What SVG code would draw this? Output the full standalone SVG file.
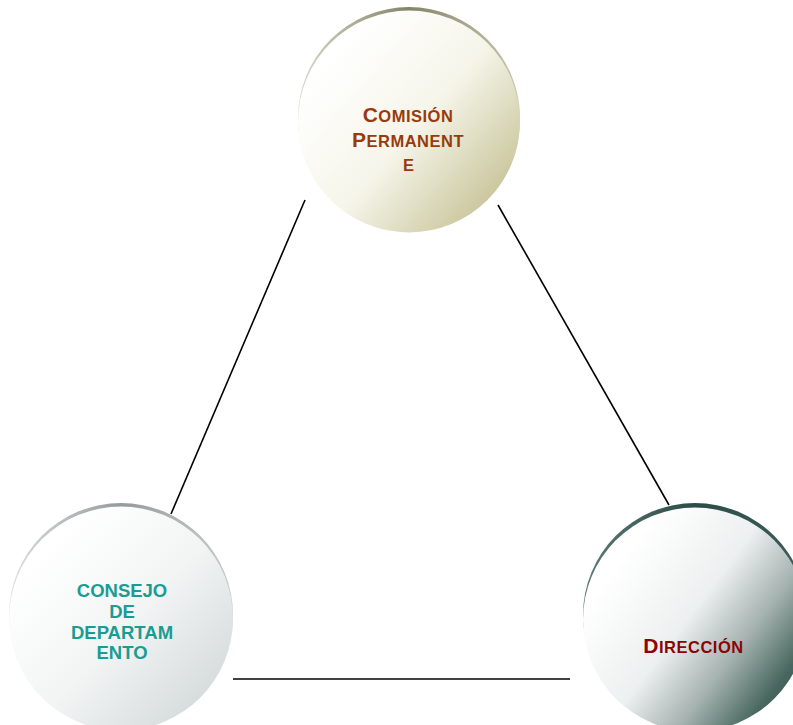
<svg xmlns="http://www.w3.org/2000/svg" width="793" height="725" viewBox="0 0 793 725">
<defs>
<style>
.conn{stroke:#000;stroke-width:1.6;fill:none}
.lbl{font-family:"Liberation Sans",Arial,sans-serif;font-weight:bold;text-anchor:middle}
.sc{letter-spacing:0.5px}
</style>
<linearGradient id="gTop" x1="0.15" y1="0.2" x2="0.9" y2="0.85">
<stop offset="0" stop-color="#ffffff"/>
<stop offset="0.5" stop-color="#f6f5ea"/>
<stop offset="1" stop-color="#c8c59a"/>
</linearGradient>
<linearGradient id="rimTop" x1="0" y1="0" x2="1" y2="0">
<stop offset="0" stop-color="#d8d8c8"/>
<stop offset="0.5" stop-color="#84846a"/>
<stop offset="1" stop-color="#c8c8b0"/>
</linearGradient>
<linearGradient id="gLeft" x1="0.15" y1="0.2" x2="0.9" y2="0.9">
<stop offset="0" stop-color="#ffffff"/>
<stop offset="0.5" stop-color="#f2f4f4"/>
<stop offset="1" stop-color="#d3d9d9"/>
</linearGradient>
<linearGradient id="rimLeft" x1="0" y1="0" x2="1" y2="0">
<stop offset="0" stop-color="#dcdede"/>
<stop offset="0.5" stop-color="#959b9b"/>
<stop offset="1" stop-color="#c8cccc"/>
</linearGradient>
<linearGradient id="gRight" x1="0.15" y1="0.25" x2="0.95" y2="0.85">
<stop offset="0" stop-color="#ffffff"/>
<stop offset="0.4" stop-color="#edf0f0"/>
<stop offset="0.66" stop-color="#a6b3b1"/>
<stop offset="0.9" stop-color="#48675f"/>
<stop offset="1" stop-color="#3a5955"/>
</linearGradient>
<linearGradient id="rimRight" x1="0" y1="0" x2="1" y2="0">
<stop offset="0" stop-color="#5c7a76"/>
<stop offset="0.5" stop-color="#2c4c48"/>
<stop offset="1" stop-color="#3d5d59"/>
</linearGradient>
</defs>
<rect width="793" height="725" fill="#ffffff"/>
<g id="connectors">
<line class="conn" x1="305" y1="200" x2="171" y2="514"/>
<line class="conn" x1="498" y1="205" x2="669" y2="505"/>
<line class="conn" x1="233" y1="679" x2="570" y2="679"/>
</g>
<g id="comision">
<circle cx="409" cy="118" r="111" fill="url(#rimTop)"/>
<circle cx="409" cy="121.5" r="111" fill="url(#gTop)"/>
<text class="lbl sc" fill="#9a3a0c" x="408" y="122"><tspan font-size="21">C</tspan><tspan font-size="16.5">OMISIÓN</tspan></text>
<text class="lbl sc" fill="#9a3a0c" x="408" y="147"><tspan font-size="21">P</tspan><tspan font-size="16.5">ERMANENT</tspan></text>
<text class="lbl" fill="#9a3a0c" x="408.5" y="171" font-size="16.5">E</text>
</g>
<g id="consejo">
<circle cx="121" cy="615" r="112" fill="url(#rimLeft)"/>
<circle cx="121" cy="618.5" r="112" fill="url(#gLeft)"/>
<text class="lbl" fill="#1a9c94" font-size="18.5" x="122" y="597">CONSEJO</text>
<text class="lbl" fill="#1a9c94" font-size="18.5" x="122" y="618">DE</text>
<text class="lbl" fill="#1a9c94" font-size="18.5" x="122" y="639">DEPARTAM</text>
<text class="lbl" fill="#1a9c94" font-size="18.5" x="122" y="659">ENTO</text>
</g>
<g id="direccion">
<circle cx="695" cy="615" r="112" fill="url(#rimRight)"/>
<circle cx="695" cy="619.5" r="112" fill="url(#gRight)"/>
<text class="lbl sc" fill="#8c0404" x="693.5" y="653"><tspan font-size="21">D</tspan><tspan font-size="16.5">IRECCIÓN</tspan></text>
</g>
</svg>
